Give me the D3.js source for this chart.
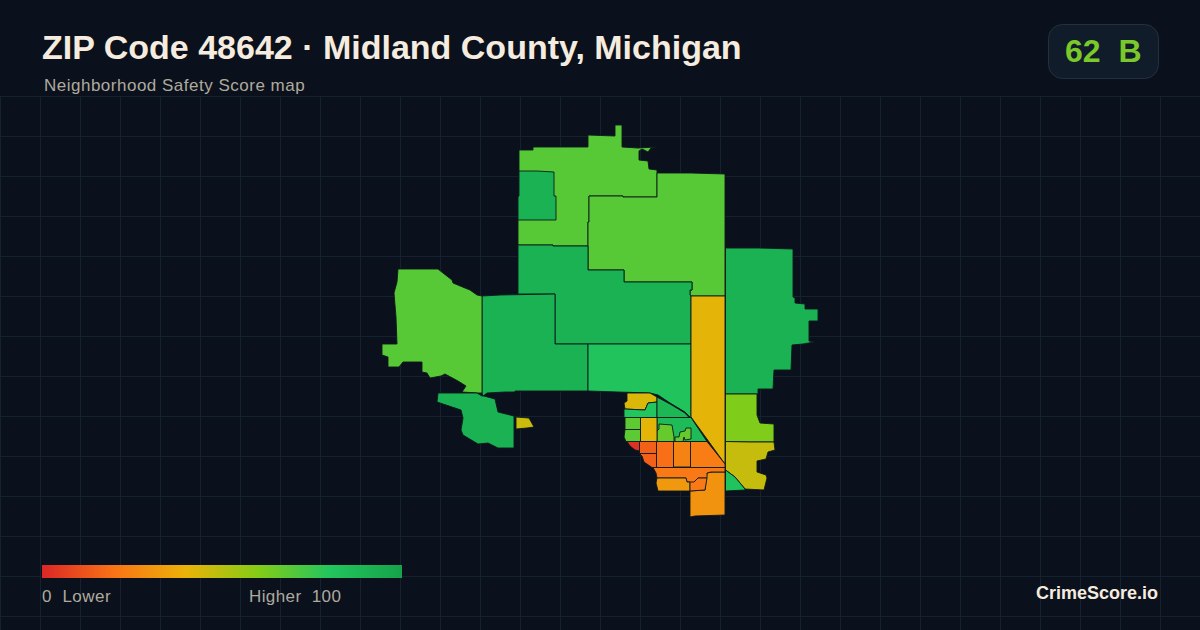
<!DOCTYPE html>
<html>
<head>
<meta charset="utf-8">
<script src="https://cdn.jsdelivr.net/npm/d3@7"></script>
<style>
  html, body { margin: 0; padding: 0; background: #0a111c; }
  svg { display: block; }
  text { font-family: "Liberation Sans", Arial, sans-serif; }
</style>
</head>
<body>
<svg id="map" width="1200" height="630"></svg>
<script>
// score stops of the legend ramp
const rampStops = [0, 20, 40, 60, 80, 100];
const rampColors = ["#dc2626", "#f97316", "#eab308", "#84cc16", "#22c55e", "#16a34a"];

const titleText = "ZIP Code 48642 · Midland County, Michigan";
const subtitleText = "Neighborhood Safety Score map";
const badgeScore = "62";
const badgeGrade = "B";
const legendLow = "0  Lower";
const legendHigh = "Higher  100";
const brandText = "CrimeScore.io";

// block group scores, same order as tractRings
const tractScores = [69, 91, 69, 91, 91, 81, 41, 91, 61, 47, 81, 30, 22, 32, 22,
  15, 15, 3, 19, 25, 23, 43, 80, 88, 86, 66, 66, 41, 68, 68, 69, 91, 46];

// outlines, in map units
const tractRings = [
  [[519,150],[533,150],[533,147],[561,147],[588,147],[588,135],[615,136],[615,125],[622,125],[622,147],[638,148],[656,147],[651,148],[648,152],[642,149],[639,151],[639,160],[648,161],[649,169],[657,170],[657,197],[623,197],[623,196],[589,196],[589,222],[588,222],[588,246],[553,246],[553,245],[518,245],[518,197],[519,196]],
  [[519,171],[537,171],[554,172],[554,196],[556,196],[556,220],[518,220],[518,197],[519,196]],
  [[657,173],[691,173],[725,174],[725,296],[691,296],[690,295],[690,290],[692,290],[692,282],[624,282],[624,270],[588,270],[588,246],[588,222],[589,222],[589,196],[623,196],[623,197],[657,197]],
  [[518,245],[553,245],[553,246],[588,246],[588,270],[624,270],[624,282],[692,282],[692,290],[690,290],[690,295],[691,296],[691,344],[588,344],[555,344],[555,294],[518,294]],
  [[482,296],[500,295],[555,294],[555,344],[588,344],[588,391],[515,391],[515,392],[505,392],[487,393],[483,396],[482,393],[482,319]],
  [[588,344],[691,344],[691,380],[691,418],[685,412],[670,403],[658,395],[650,393],[618,392],[588,391]],
  [[691,296],[725,296],[725,464],[691,417],[691,380],[691,344]],
  [[725.5,248],[759,248],[793,249],[793,297],[795,298],[795,303],[805,304],[805,309],[818,309],[818,321],[809,321],[809,341],[814,342],[803,344],[792,345],[791,370],[774,370],[773,389],[758,389],[758,394],[725.5,394]],
  [[725.5,394],[757,394],[757,415],[760,423],[774,424],[774,442],[750,442],[725.5,441.5]],
  [[725.5,441.5],[750,442],[774,442],[775,450],[768,452],[766,459],[757,461],[757,472],[766,475],[767,478],[764,490],[745,489],[735,477],[725.5,470]],
  [[725.5,470],[735,477],[745,489],[745,490],[725.5,491]],
  [[725,472],[725,515],[695,516],[690,517],[690,491],[705,490],[707,473],[712,472]],
  [[653,467.5],[725,467.5],[725,472],[711,472],[707,473],[707,478],[698,478],[694,482],[692,484],[690,482],[687,482],[686,478],[657,478],[656,473]],
  [[657,478],[686,478],[687,482],[690,482],[690,491],[658,491],[656,483]],
  [[690,482],[694,482],[698,478],[707,478],[705,490],[690,491]],
  [[639.5,441.5],[656.5,441.5],[656.5,453.5],[639.5,453.5]],
  [[639.5,453.5],[656.5,453.5],[656.5,467.5],[652,467.5],[644,462],[642,456]],
  [[627,441.5],[639.5,441.5],[639.5,451],[635,450],[630,446]],
  [[656.5,441.5],[673.5,441.5],[673.5,467.5],[656.5,467.5]],
  [[673.5,441.5],[690.5,441.5],[690.5,467],[673.5,467]],
  [[690.5,441.5],[707,441.5],[725,464],[725,467.5],[690.5,467.5]],
  [[627,393],[650,393],[657,397],[657,402],[648,403],[645,410],[625,409],[624,403],[627,401]],
  [[624,409],[645,410],[648,403],[657,402],[657,417.5],[624,417.5]],
  [[657,397],[670,404],[685,413],[689,417.5],[657,417.5]],
  [[657,417.5],[691,417.5],[707,441.5],[657,441.5]],
  [[659,424],[672,425],[674,437],[674,441.5],[657,441.5],[657,431],[659,429]],
  [[675,437],[679,437],[680,432],[685,431],[686,428],[691,428],[691,439],[685,440],[684,437],[683,441.5],[675,441.5]],
  [[640.5,417.5],[657,417.5],[657,441.5],[640.5,441.5]],
  [[625,417.5],[640.5,417.5],[640.5,429.5],[625,429.5]],
  [[625,429.5],[640.5,429.5],[640.5,441.5],[626,441.5],[624,437]],
  [[398,269],[438,269],[443,273],[452,280],[453,283],[465,288],[470,290],[477,295],[482,296],[482,319],[482,393],[477,393],[462,392],[466,386],[458,381],[445,374],[441,376],[430,378],[427,373],[422,372],[422,362],[403,362],[399,367],[388,367],[388,357],[382,355],[382,344],[397,344],[396,317],[394,293],[397,282]],
  [[438,393],[462,393],[477,393],[482,396],[484,396],[495,399],[498,412],[514,416],[514,448],[498,448],[488,443],[478,444],[463,435],[461,430],[463,418],[461,410],[437,402]],
  [[516,417],[529,418],[534,427],[527,428],[516,429]]
];

const width = 1200, height = 630;
const bg = "#0a111c";

var color = d3.scaleLinear().domain(rampStops).range(rampColors).clamp(true);

const svg = d3.select("#map").attr("viewBox", [0, 0, width, height]);

svg.append("rect").attr("width", width).attr("height", height).attr("fill", bg);

// background grid, starts under the header
const grid = svg.append("g").attr("stroke", "#142230").attr("stroke-width", 1);
grid.selectAll(".v").data(d3.range(0, width, 40)).join("line").attr("class", "v")
  .attr("x1", d => d + 0.5).attr("x2", d => d + 0.5).attr("y1", 96).attr("y2", height);
grid.selectAll(".h").data(d3.range(96, height, 40)).join("line").attr("class", "h")
  .attr("y1", d => d + 0.5).attr("y2", d => d + 0.5).attr("x1", 0).attr("x2", width);

// map
const features = tractRings.map((ring, i) => ({
  type: "Feature",
  properties: { score: tractScores[i] },
  geometry: { type: "Polygon", coordinates: [ring.concat([ring[0]])] }
}));
const collection = { type: "FeatureCollection", features: features };
const projection = d3.geoIdentity().fitExtent([[382, 125], [818, 517]], collection);
const path = d3.geoPath(projection);

svg.append("g").selectAll("path")
  .data(features)
  .join("path")
  .attr("d", path)
  .attr("fill", d => color(d.properties.score))
  .attr("stroke", "#0c1a1c")
  .attr("stroke-width", 0.9)
  .attr("stroke-linejoin", "round");

// header
svg.append("text").attr("x", 42).attr("y", 59)
  .attr("font-size", 34).attr("font-weight", 700)
  .attr("fill", "#f5ebdf").text(titleText);
svg.append("text").attr("x", 44).attr("y", 91)
  .attr("font-size", 17).attr("letter-spacing", 0.5)
  .attr("fill", "#b0aa9e").text(subtitleText);

// score badge
svg.append("rect").attr("x", 1048.5).attr("y", 24.5).attr("width", 110).attr("height", 54).attr("rx", 14)
  .attr("fill", "#111c2a").attr("stroke", "#243040");
svg.append("text").attr("x", 1065).attr("y", 62)
  .attr("font-size", 32).attr("font-weight", 700).attr("fill", "#7ac82a")
  .style("white-space", "pre")
  .text(badgeScore + "  " + badgeGrade);

// legend
const gradient = svg.append("defs").append("linearGradient").attr("id", "ramp");
gradient.selectAll("stop").data(rampStops).join("stop")
  .attr("offset", d => d + "%").attr("stop-color", d => color(d));
svg.append("rect").attr("x", 42).attr("y", 565).attr("width", 360).attr("height", 13).attr("fill", "url(#ramp)");
svg.append("text").attr("x", 42).attr("y", 602).attr("font-size", 17).attr("letter-spacing", 0.5).attr("fill", "#b0aa9e")
  .style("white-space", "pre").text(legendLow);
svg.append("text").attr("x", 249).attr("y", 602).attr("font-size", 17).attr("letter-spacing", 0.4).attr("fill", "#b0aa9e")
  .style("white-space", "pre").text(legendHigh);

svg.append("text").attr("x", 1158).attr("y", 599).attr("text-anchor", "end")
  .attr("font-size", 18).attr("font-weight", 700).attr("fill", "#f5ebdf").text(brandText);
</script>
</body>
</html>
